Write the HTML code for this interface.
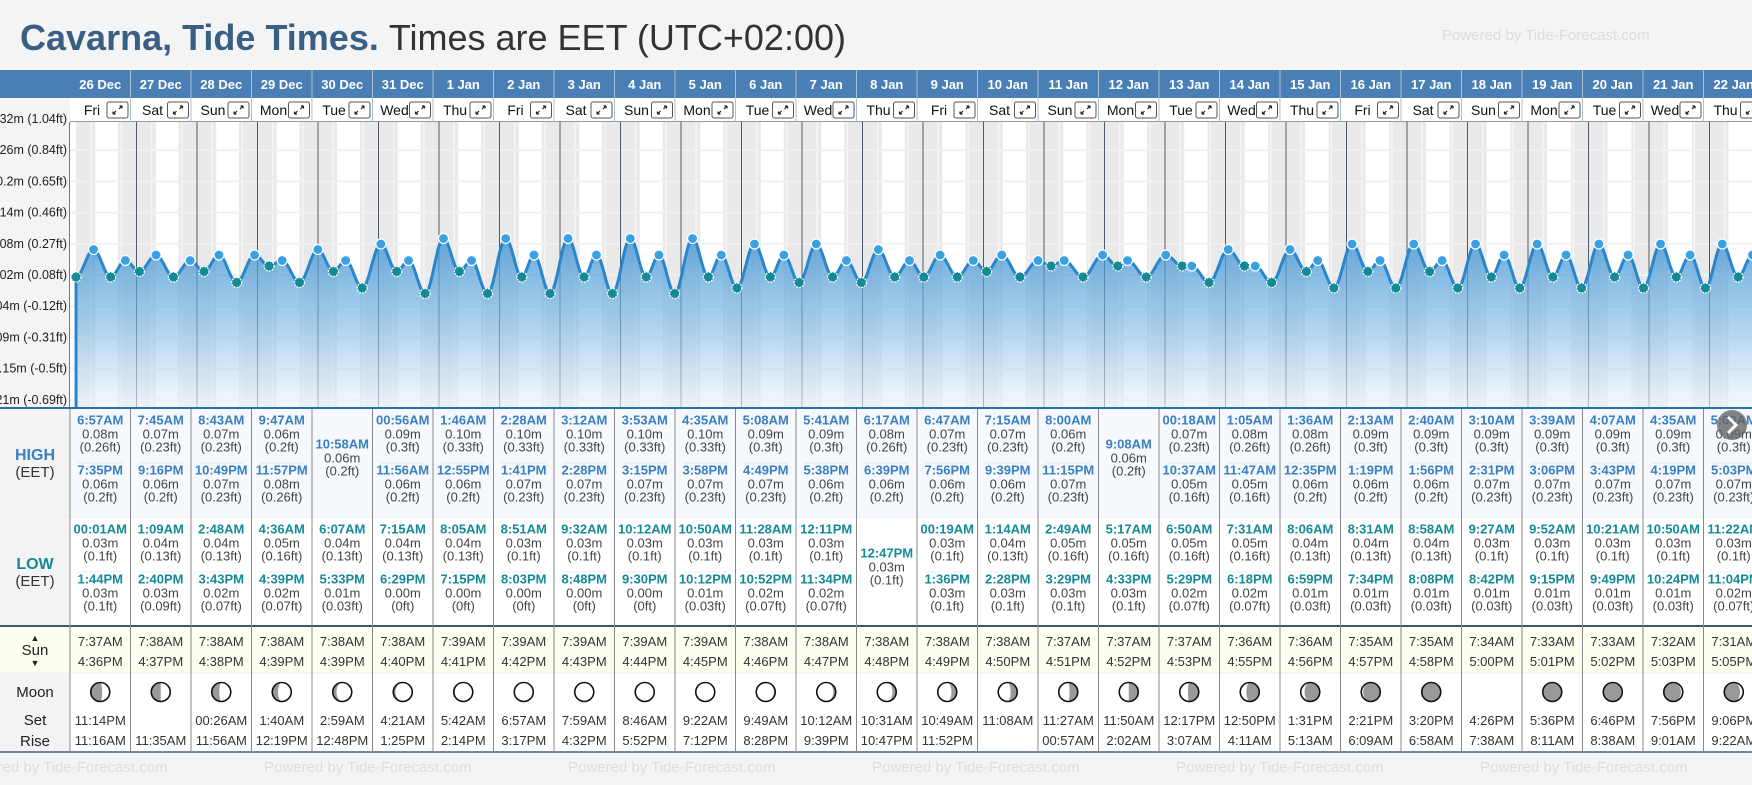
<!DOCTYPE html>
<html><head><meta charset="utf-8"><style>
html,body{margin:0;padding:0;background:#f4f4f4;}
body{width:1752px;height:780px;overflow:hidden;font-family:"Liberation Sans",sans-serif;}
svg text{font-family:"Liberation Sans",sans-serif;}
</style></head><body>
<svg id="root" width="1752" height="780" viewBox="0 0 1752 780" xmlns="http://www.w3.org/2000/svg">
<defs>
<linearGradient id="fillg" x1="0" y1="0" x2="0" y2="1">
<stop offset="0" stop-color="#3a90d2" stop-opacity="0.78"/>
<stop offset="0.5" stop-color="#7ab6e3" stop-opacity="0.62"/>
<stop offset="1" stop-color="#eef6fd" stop-opacity="0.6"/>
</linearGradient>
</defs>
<rect x="0" y="0" width="1752" height="780" fill="#f4f4f4"/>
<text x="20" y="50" font-size="36" fill="#3a5f85" font-weight="bold">Cavarna, Tide Times. <tspan fill="#333" font-weight="normal">Times are EET (UTC+02:00)</tspan></text>
<text x="1442" y="40" font-size="15" fill="#dcdcdc">Powered by Tide-Forecast.com</text>
<g id="g"></g>
</svg>
<script>
const days=['26 Dec','27 Dec','28 Dec','29 Dec','30 Dec','31 Dec','1 Jan','2 Jan','3 Jan','4 Jan','5 Jan','6 Jan','7 Jan','8 Jan','9 Jan','10 Jan','11 Jan','12 Jan','13 Jan','14 Jan','15 Jan','16 Jan','17 Jan','18 Jan','19 Jan','20 Jan','21 Jan','22 Jan'];
const dows=['Fri','Sat','Sun','Mon','Tue','Wed','Thu','Fri','Sat','Sun','Mon','Tue','Wed','Thu','Fri','Sat','Sun','Mon','Tue','Wed','Thu','Fri','Sat','Sun','Mon','Tue','Wed','Thu'];
const highTimes=[['6:57AM','7:35PM'],['7:45AM','9:16PM'],['8:43AM','10:49PM'],['9:47AM','11:57PM'],['10:58AM'],['00:56AM','11:56AM'],['1:46AM','12:55PM'],['2:28AM','1:41PM'],['3:12AM','2:28PM'],['3:53AM','3:15PM'],['4:35AM','3:58PM'],['5:08AM','4:49PM'],['5:41AM','5:38PM'],['6:17AM','6:39PM'],['6:47AM','7:56PM'],['7:15AM','9:39PM'],['8:00AM','11:15PM'],['9:08AM'],['00:18AM','10:37AM'],['1:05AM','11:47AM'],['1:36AM','12:35PM'],['2:13AM','1:19PM'],['2:40AM','1:56PM'],['3:10AM','2:31PM'],['3:39AM','3:06PM'],['4:07AM','3:43PM'],['4:35AM','4:19PM'],['5:03AM','5:03PM']];
const highM=[[0.08,0.06],[0.07,0.06],[0.07,0.07],[0.06,0.08],[0.06],[0.09,0.06],[0.10,0.06],[0.10,0.07],[0.10,0.07],[0.10,0.07],[0.10,0.07],[0.09,0.07],[0.09,0.06],[0.08,0.06],[0.07,0.06],[0.07,0.06],[0.06,0.07],[0.06],[0.07,0.05],[0.08,0.05],[0.08,0.06],[0.09,0.06],[0.09,0.06],[0.09,0.07],[0.09,0.07],[0.09,0.07],[0.09,0.07],[0.09,0.07]];
const highFt=[['0.26','0.2'],['0.23','0.2'],['0.23','0.23'],['0.2','0.26'],['0.2'],['0.3','0.2'],['0.33','0.2'],['0.33','0.23'],['0.33','0.23'],['0.33','0.23'],['0.33','0.23'],['0.3','0.23'],['0.3','0.2'],['0.26','0.2'],['0.23','0.2'],['0.23','0.2'],['0.2','0.23'],['0.2'],['0.23','0.16'],['0.26','0.16'],['0.26','0.2'],['0.3','0.2'],['0.3','0.2'],['0.3','0.23'],['0.3','0.23'],['0.3','0.23'],['0.3','0.23'],['0.3','0.23']];
const lowTimes=[['00:01AM','1:44PM'],['1:09AM','2:40PM'],['2:48AM','3:43PM'],['4:36AM','4:39PM'],['6:07AM','5:33PM'],['7:15AM','6:29PM'],['8:05AM','7:15PM'],['8:51AM','8:03PM'],['9:32AM','8:48PM'],['10:12AM','9:30PM'],['10:50AM','10:12PM'],['11:28AM','10:52PM'],['12:11PM','11:34PM'],['12:47PM'],['00:19AM','1:36PM'],['1:14AM','2:28PM'],['2:49AM','3:29PM'],['5:17AM','4:33PM'],['6:50AM','5:29PM'],['7:31AM','6:18PM'],['8:06AM','6:59PM'],['8:31AM','7:34PM'],['8:58AM','8:08PM'],['9:27AM','8:42PM'],['9:52AM','9:15PM'],['10:21AM','9:49PM'],['10:50AM','10:24PM'],['11:22AM','11:04PM']];
const lowM=[[0.03,0.03],[0.04,0.03],[0.04,0.02],[0.05,0.02],[0.04,0.01],[0.04,0.00],[0.04,0.00],[0.03,0.00],[0.03,0.00],[0.03,0.00],[0.03,0.01],[0.03,0.02],[0.03,0.02],[0.03],[0.03,0.03],[0.04,0.03],[0.05,0.03],[0.05,0.03],[0.05,0.02],[0.05,0.02],[0.04,0.01],[0.04,0.01],[0.04,0.01],[0.03,0.01],[0.03,0.01],[0.03,0.01],[0.03,0.01],[0.03,0.02]];
const lowFt=[['0.1','0.1'],['0.13','0.09'],['0.13','0.07'],['0.16','0.07'],['0.13','0.03'],['0.13','0'],['0.13','0'],['0.1','0'],['0.1','0'],['0.1','0'],['0.1','0.03'],['0.1','0.07'],['0.1','0.07'],['0.1'],['0.1','0.1'],['0.13','0.1'],['0.16','0.1'],['0.16','0.1'],['0.16','0.07'],['0.16','0.07'],['0.13','0.03'],['0.13','0.03'],['0.13','0.03'],['0.1','0.03'],['0.1','0.03'],['0.1','0.03'],['0.1','0.03'],['0.1','0.07']];
const sunrise=['7:37AM','7:38AM','7:38AM','7:38AM','7:38AM','7:38AM','7:39AM','7:39AM','7:39AM','7:39AM','7:39AM','7:38AM','7:38AM','7:38AM','7:38AM','7:38AM','7:37AM','7:37AM','7:37AM','7:36AM','7:36AM','7:35AM','7:35AM','7:34AM','7:33AM','7:33AM','7:32AM','7:31AM'];
const sunset=['4:36PM','4:37PM','4:38PM','4:39PM','4:39PM','4:40PM','4:41PM','4:42PM','4:43PM','4:44PM','4:45PM','4:46PM','4:47PM','4:48PM','4:49PM','4:50PM','4:51PM','4:52PM','4:53PM','4:55PM','4:56PM','4:57PM','4:58PM','5:00PM','5:01PM','5:02PM','5:03PM','5:05PM'];
const moonSet=['11:14PM','','00:26AM','1:40AM','2:59AM','4:21AM','5:42AM','6:57AM','7:59AM','8:46AM','9:22AM','9:49AM','10:12AM','10:31AM','10:49AM','11:08AM','11:27AM','11:50AM','12:17PM','12:50PM','1:31PM','2:21PM','3:20PM','4:26PM','5:36PM','6:46PM','7:56PM','9:06PM'];
const moonRise=['11:16AM','11:35AM','11:56AM','12:19PM','12:48PM','1:25PM','2:14PM','3:17PM','4:32PM','5:52PM','7:12PM','8:28PM','9:39PM','10:47PM','11:52PM','','00:57AM','2:02AM','3:07AM','4:11AM','5:13AM','6:09AM','6:58AM','7:38AM','8:11AM','8:38AM','9:01AM','9:22AM'];
const moonLit=[0.4,0.5,0.6,0.7,0.8,0.88,0.94,0.98,1,1,0.97,0.93,0.87,0.8,0.72,0.65,0.57,0.5,0.43,0.32,0.2,0.1,0.03,null,0.02,0.05,0.1,0.17];
const moonWaxing=[1,1,1,1,1,1,1,1,1,1,0,0,0,0,0,0,0,0,0,0,0,0,0,0,1,1,1,1];
const yTickLabels=['0.32m (1.04ft)','0.26m (0.84ft)','0.2m (0.65ft)','0.14m (0.46ft)','0.08m (0.27ft)','0.02m (0.08ft)','-0.04m (-0.12ft)','-0.09m (-0.31ft)','-0.15m (-0.5ft)','-0.21m (-0.69ft)'];

const NS='http://www.w3.org/2000/svg';
const G=document.getElementById('g');
function mk(tag,attrs,parent,txt){const e=document.createElementNS(NS,tag);for(const k in attrs)e.setAttribute(k,attrs[k]);if(txt!==undefined)e.textContent=txt;(parent||G).appendChild(e);return e;}
const W=60.5, COL0=70, CH0=76;
function hrs(s){const m=s.match(/(\d+):(\d+)(AM|PM)/);let h=+m[1]%12;if(m[3]==='PM')h+=12;return h+ +m[2]/60;}
function xT(d,h){return CH0+(d+h/24)*W;}
function yV(v){return 277-(v-0.03)*550;}
const CT=122, CB=407;

const bg=mk('g',{});

mk('rect',{x:70,y:CT,width:1682,height:CB-CT,fill:'#fff'},bg);
for(let d=0;d<days.length;d++){
  const r=xT(d,hrs(sunrise[d])), s=xT(d,hrs(sunset[d]));
  mk('rect',{x:xT(d,0),y:CT,width:r-xT(d,0),height:CB-CT,fill:'#e9e9e9'},bg);
  mk('rect',{x:s,y:CT,width:xT(d+1,0)-s,height:CB-CT,fill:'#e9e9e9'},bg);
  for(let q=1;q<4;q++){if(q===2)continue;mk('line',{x1:xT(d,q*6),x2:xT(d,q*6),y1:CT,y2:CB,stroke:'#f6f6f6','stroke-width':1.5},bg);}
}
mk('rect',{x:70,y:CT,width:6,height:CB-CT,fill:'#fff'},bg);
for(let k=0;k<yTickLabels.length;k++){const y=119+k*31.2;mk('line',{x1:70,x2:1752,y1:y,y2:y,stroke:'#f0f0f0','stroke-width':2},bg);}
for(let d=1;d<days.length;d++){mk('line',{x1:xT(d,0),x2:xT(d,0),y1:CT,y2:CB,stroke:'#4d5b6b','stroke-width':1},bg);}
for(let k=0;k<yTickLabels.length;k++){
  const t=mk('text',{x:67,y:123+k*31.2,'font-size':12.5,fill:'#222','text-anchor':'end'},G,yTickLabels[k]);
  
}
mk('line',{x1:69.5,x2:69.5,y1:CT,y2:CB,stroke:'#777','stroke-width':1});

const pts=[];
for(let d=0;d<days.length;d++){
  highTimes[d].forEach((t,i)=>pts.push({x:xT(d,hrs(t)),y:yV(highM[d][i]),hi:1}));
  lowTimes[d].forEach((t,i)=>pts.push({x:xT(d,hrs(t)),y:yV(lowM[d][i]),hi:0}));
}
pts.sort((a,b)=>a.x-b.x);
let dpath='M'+pts[0].x+','+pts[0].y;
for(let i=1;i<pts.length;i++){const a=pts[i-1],b=pts[i];const n=Math.max(4,Math.ceil((b.x-a.x)/2));
  for(let j=1;j<=n;j++){const f=j/n;const x=a.x+(b.x-a.x)*f;const y=a.y+(b.y-a.y)*(1-Math.cos(Math.PI*f))/2;dpath+=' L'+x.toFixed(1)+','+y.toFixed(1);}}
const last=pts[pts.length-1];
const area=mk('path',{d:dpath+' L'+last.x+','+CB+' L'+pts[0].x+','+CB+' Z',fill:'url(#fillg)'});

const line=mk('path',{d:dpath,fill:'none',stroke:'#2a86cc','stroke-width':3});

mk('line',{x1:pts[0].x,x2:pts[0].x,y1:pts[0].y,y2:CB,stroke:'#2a86cc','stroke-width':3});
pts.forEach(p=>{const c=mk('circle',{cx:p.x,cy:p.y,r:5,fill:p.hi?'#3aa0e4':'#138a96',stroke:'#fff','stroke-width':1.2,'stroke-dasharray':p.hi?'':'2 1'});
  });
mk('line',{x1:0,x2:1752,y1:CB+1,y2:CB+1,stroke:'#2a6fb0','stroke-width':2});

mk('rect',{x:0,y:70,width:1752,height:28,fill:'#4a7fb5'});
mk('rect',{x:70,y:98,width:1682,height:24,fill:'#fff'});
mk('line',{x1:70,x2:1752,y1:121.5,y2:121.5,stroke:'#999'});
mk('rect',{x:0,y:409,width:70,height:217,fill:'#f3f3f3'});
mk('rect',{x:70,y:409,width:1682,height:108,fill:'#f5f9fd'});
mk('rect',{x:70,y:517,width:1682,height:109,fill:'#fff'});
mk('line',{x1:0,x2:1752,y1:517,y2:517,stroke:'#eee'});
mk('rect',{x:0,y:626,width:1752,height:47,fill:'#fdfdf0'});
mk('rect',{x:0,y:673,width:70,height:79,fill:'#f3f3f3'});
mk('rect',{x:70,y:673,width:1682,height:79,fill:'#fff'});
mk('line',{x1:0,x2:1752,y1:673,y2:673,stroke:'#eee'});
mk('line',{x1:0,x2:1752,y1:626,y2:626,stroke:'#3f5872','stroke-width':2});
mk('line',{x1:0,x2:1752,y1:752,y2:752,stroke:'#4d6075','stroke-width':1.5});
mk('line',{x1:70,x2:70,y1:409,y2:752,stroke:'#888'});

function lab(x,y,s,t,fill,bold,name){const e=mk('text',{x:x,y:y,'font-size':s,fill:fill,'text-anchor':'middle','font-weight':bold?'bold':'normal'},G,t);return e;}
lab(35,460,16,'HIGH','#3a7fc0',1,'high-row-label');lab(35,477,15,'(EET)','#333',0,'high-tz-label');
lab(35,569,16,'LOW','#158a96',1,'low-row-label');lab(35,586,15,'(EET)','#333',0,'low-tz-label');
lab(35,641,9,'▲','#222',0,'sunrise-marker');lab(35,655,15,'Sun','#222',0,'sun-row-label');lab(35,666,9,'▼','#222',0,'sunset-marker');
lab(35,697,15,'Moon','#222',0,'moon-row-label');lab(35,725,15,'Set','#222',0,'moonset-label');lab(35,746,15,'Rise','#222',0,'moonrise-label');

function entry(cx,y0,time,m,ft,col,name){
  lab(cx,y0+4.5,13,time,col,1,name+'-time');
  lab(cx,y0+18.5,13,m.toFixed(2)+'m','#444',0,name+'-height-m');
  lab(cx,y0+31.5,13,'('+ft+'ft)','#444',0,name+'-height-ft');
}
for(let d=0;d<days.length;d++){
  const x=COL0+d*W, cx=x+W/2;
  const hg=mk('g',{});
  mk('text',{x:cx,y:89,'font-size':13,'font-weight':'bold',fill:'#fff','text-anchor':'middle'},hg,days[d]);
  mk('text',{x:x+22,y:115,'font-size':14,fill:'#111','text-anchor':'middle'},hg,dows[d]);
  const eb=mk('g',{},hg);
  mk('rect',{x:x+37,y:102,width:21,height:16,rx:2,fill:'#fff',stroke:'#555'},eb);
  mk('path',{d:`M${x+43},${114} l3,-3 M${x+43},${114} h2.5 M${x+43},${114} v-2.5 M${x+52},${106} l-3,3 M${x+52},${106} h-2.5 M${x+52},${106} v2.5`,stroke:'#222','stroke-width':1.2,fill:'none'},eb);
  if(d>0){mk('line',{x1:x,x2:x,y1:70,y2:122,stroke:'#a9bfd6'});mk('line',{x1:x,x2:x,y1:409,y2:752,stroke:'#888'});}
  if(highTimes[d].length===2){entry(cx,420,highTimes[d][0],highM[d][0],highFt[d][0],'#3a7fc0','high-tide-1');
    mk('line',{x1:x+8,x2:x+W-8,y1:463,y2:463,stroke:'#e3e8ee'});
    entry(cx,470,highTimes[d][1],highM[d][1],highFt[d][1],'#3a7fc0','high-tide-2');}
  else entry(cx,444,highTimes[d][0],highM[d][0],highFt[d][0],'#3a7fc0','high-tide');
  if(lowTimes[d].length===2){entry(cx,529,lowTimes[d][0],lowM[d][0],lowFt[d][0],'#158a96','low-tide-1');
    mk('line',{x1:x+8,x2:x+W-8,y1:572,y2:572,stroke:'#eee'});
    entry(cx,579,lowTimes[d][1],lowM[d][1],lowFt[d][1],'#158a96','low-tide-2');}
  else entry(cx,553,lowTimes[d][0],lowM[d][0],lowFt[d][0],'#158a96','low-tide');
  lab(cx,646,13,sunrise[d],'#333',0,'sunrise-time');
  lab(cx,666,13,sunset[d],'#333',0,'sunset-time');
  if(moonLit[d]!==null){
    const mg=mk('g',{});
    const r=9.5,cy=692,L=moonLit[d];
    mk('circle',{cx:cx,cy:cy,r:r,fill:'#999'},mg);
    const s=moonWaxing[d]?1:0;
    const k=Math.abs(1-2*L)*r;
    const outer=`M${cx},${cy-r} A${r},${r} 0 0 ${s} ${cx},${cy+r}`;
    const inner=` A${k},${r} 0 0 ${L>0.5?s:1-s} ${cx},${cy-r} Z`;
    mk('path',{d:outer+inner,fill:'#fff'},mg);
    mk('circle',{cx:cx,cy:cy,r:r,fill:'none',stroke:'#111','stroke-width':1.6},mg);
  }
  if(moonSet[d])lab(cx,725,13,moonSet[d],'#333',0,'moonset-time');
  if(moonRise[d])lab(cx,745,13,moonRise[d],'#333',0,'moonrise-time');
}
for(let i=0;i<6;i++){const t=mk('text',{x:-40+i*304,y:772,'font-size':15,fill:'#dedede'},G,'Powered by Tide-Forecast.com');}
const nb=mk('g',{});
mk('circle',{cx:1732,cy:425,r:15,fill:'#666','fill-opacity':0.8},nb);
mk('path',{d:'M1728,417 l8,8 l-8,8',stroke:'#fff','stroke-width':3,fill:'none'},nb);
</script>
</body></html>
